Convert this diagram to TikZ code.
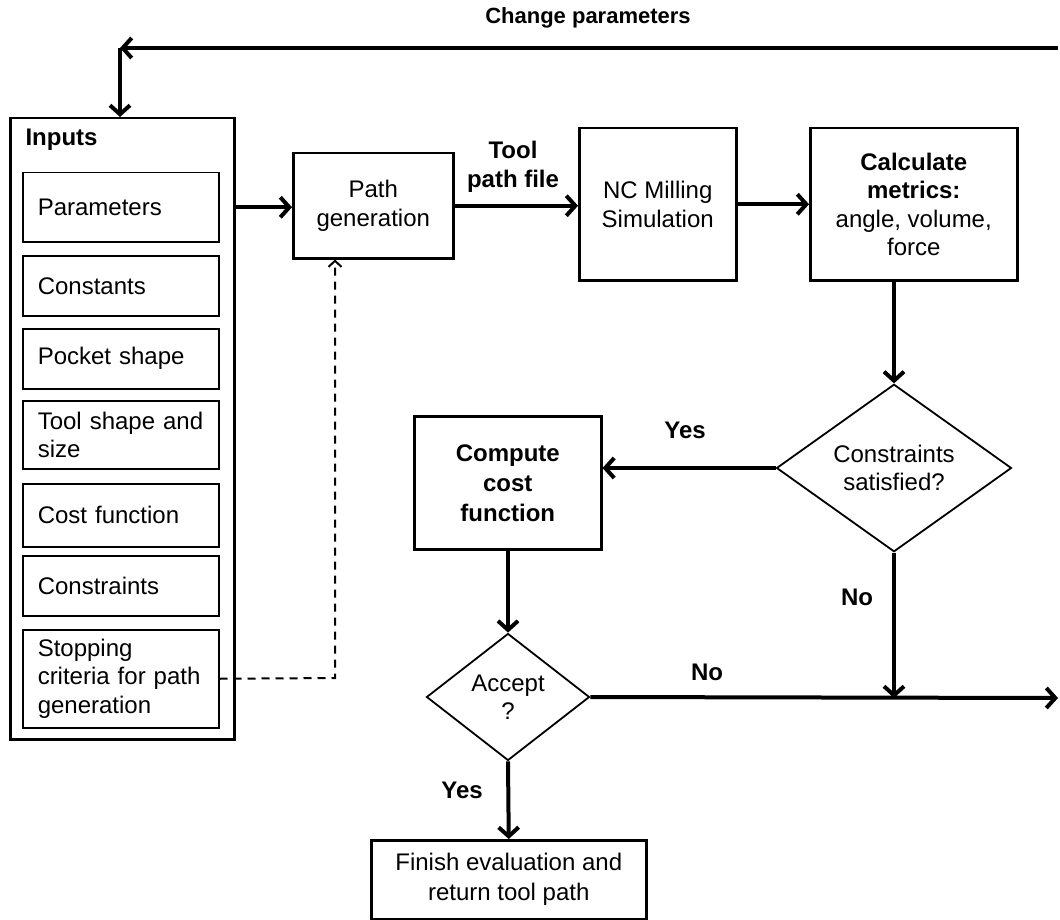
\documentclass[tikz,border=0pt]{standalone}
\usepackage{fontspec}
\setmainfont{Liberation Sans}
\usetikzlibrary{arrows.meta,shapes.geometric}

\begin{document}
\begin{tikzpicture}[x=1pt, y=-1pt, >={Straight Barb[length=9pt,width=20pt]},
    font=\fontsize{24}{28.5}\selectfont,
    box/.style={
        % The shape:
        rectangle, anchor=north west,
        % The border
        draw=black, line width=2.5pt,
        % The text
        align=center, inner sep=0pt},
    item/.style={
        % The shape:
        rectangle, anchor=north west,
        % The border
        draw=black, line width=1.5pt,
        % The text
        minimum width=196pt, text width=166pt, inner xsep=15pt, inner ysep=0pt,
        align=left},
    choice/.style={
        % The shape:
        diamond, inner sep=0pt,
        % The border
        draw=black, line width=1.8pt,
        % The text
        align=center},
    flow/.style={line width=4pt},
    hint/.style={font=\fontsize{24}{28.5}\selectfont\bfseries, align=center}]

    \useasboundingbox (0,0) rectangle (1060,920);

    \node[hint, font=\fontsize{22}{26}\selectfont\bfseries] (chg) at (588,18) {Change parameters};

    % inputs column
    \node[box, minimum width=224pt, minimum height=621pt] (inputs) at (9,117) {};
    \node[hint, anchor=west] (inlbl) at (22,140) {Inputs};
    \node[item, minimum height=69pt] (par) at (22,172) {Parameters};
    \node[item, minimum height=60pt] (con) at (22,255) {Constants};
    \node[item, minimum height=60pt] (poc) at (22,328) {Pocket shape};
    \node[item, minimum height=68pt] (tsh) at (22,400) {Tool shape and\\size};
    \node[item, minimum height=63pt] (cst) at (22,483) {Cost function};
    \node[item, minimum height=60pt] (cns) at (22,555) {Constraints};
    \node[item, minimum height=98pt] (stp) at (22,629) {Stopping\\criteria for path\\generation};

    % main chain
    \node[box, minimum width=160pt, minimum height=105pt] (pgen) at (292,152) {Path\\generation};
    \node[box, minimum width=157pt, minimum height=152pt] (nc) at (578,127) {NC Milling\\Simulation};
    \node[box, minimum width=207pt, minimum height=152pt] (calc) at (809,127)
        {\textbf{Calculate}\\\textbf{metrics:}\\angle, volume,\\force};
    \node[choice, minimum width=235pt, minimum height=127pt] (cons) at (894,468) {Constraints\\satisfied?};
    \node[box, minimum width=187pt, minimum height=133pt, font=\fontsize{24}{30}\selectfont\bfseries] (comp) at (413,415)
        {Compute\\cost\\function};
    \node[choice, minimum width=163pt, minimum height=127pt] (acc) at (508,697) {Accept\\?};
    \node[box, minimum width=275pt, minimum height=79pt, font=\fontsize{24}{30}\selectfont] (fin) at (370,839)
        {Finish evaluation and\\return tool path};

    \coordinate (topL) at (120,48);
    \coordinate (topR) at (1058,48);
    \coordinate (outR) at (1058,698);
    \coordinate (dsh) at (335,678);

    % labels
    \node[hint] (tpf) at (513,167) {Tool\\path file};
    \node[hint] (yes1) at (685,430) {Yes};
    \node[hint] (no1) at (707,672) {No};
    \node[hint] (no2) at (857,597) {No};
    \node[hint] (yes2) at (462,790) {Yes};

    % connectors
    \draw[flow, ->] (topR) -- (topL);
    \draw[flow, ->] (topL) -- (topL |- inputs.north);
    \draw[flow, ->] (par.east -| inputs.east) -- (par.east -| pgen.west);
    \draw[flow, ->] (pgen.east) -- (pgen.east -| nc.west);
    \draw[flow, ->] (nc.east) -- (calc.west);
    \draw[flow, ->] (cons.north |- calc.south) -- (cons.north);
    \draw[flow, ->] (cons.west) -- (cons.west -| comp.east);
    \draw[flow, ->] (acc.north |- comp.south) -- (acc.north);
    \draw[flow, ->] (acc.east) -- (outR);
    \draw[flow, ->] (cons.south) -- (cons.south |- outR);
    \draw[flow, ->] (acc.south) -- (fin.north);
    \draw[line width=2pt, dash pattern=on 8pt off 6pt, -{Straight Barb[length=6pt,width=13pt]}]
        (stp.east) -- (dsh) -- (dsh |- pgen.south);

\end{tikzpicture}
\end{document}
